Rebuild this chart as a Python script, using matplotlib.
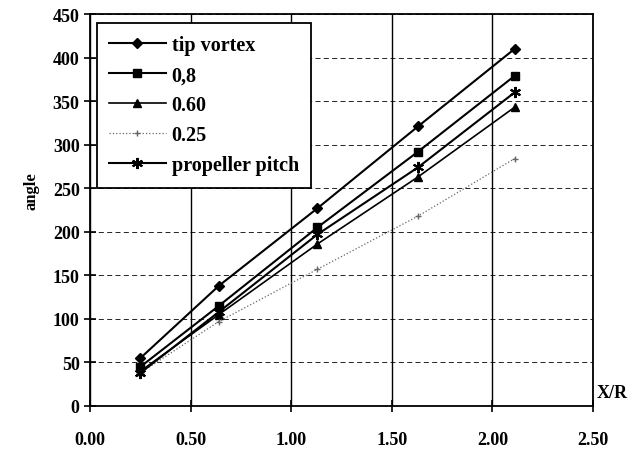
import numpy as np
import matplotlib.pyplot as plt

plt.rcParams['font.family'] = 'Liberation Serif'

# X/R stations
x = [0.25, 0.64, 1.13, 1.63, 2.11]

tip_vortex = [55, 138, 227, 321, 410]
r_08 = [45, 115, 205, 292, 379]
r_060 = [40, 105, 186, 263, 343]
r_025 = [38, 97, 157, 218, 284]
prop_pitch = [38, 108, 197, 274, 360]

fig = plt.figure(figsize=(6.39, 4.52), dpi=100)
ax = fig.add_axes([0.141, 0.0996, 0.787, 0.867])

ax.plot(x, tip_vortex, color='black', lw=1.5, marker='D', ms=5, label='tip vortex')
ax.plot(x, r_08, color='black', lw=1.5, marker='s', ms=6, label='0,8')
ax.plot(x, r_060, color='black', lw=1.2, marker='^', ms=6, label='0.60')
ax.plot(x, r_025, color='#666666', lw=0.9, ls=':', marker='+', ms=5, label='0.25')
ax.plot(x, prop_pitch, color='black', lw=1.5, marker=(6, 2, 0), ms=8, mew=1.5,
        label='propeller pitch')

ax.set_xlim(0, 2.5)
ax.set_ylim(0, 450)
ax.set_xticks(np.arange(0, 2.51, 0.5))
ax.set_yticks(np.arange(0, 451, 50))
ax.set_xticklabels(['%.2f' % v for v in np.arange(0, 2.51, 0.5)])

# vertical solid, horizontal dashed grid
ax.xaxis.grid(True, color='black', lw=1.0)
ax.yaxis.grid(True, color='black', lw=0.6, ls=(0, (6, 4)))
ax.set_axisbelow(True)

for s in ax.spines.values():
    s.set_linewidth(1.3)

ax.tick_params(axis='both', direction='inout', length=8, width=1.2, labelsize=13)
ax.tick_params(axis='x', pad=14)
for lab in ax.get_xticklabels() + ax.get_yticklabels():
    lab.set_fontweight('bold')

ax.set_ylabel('angle', fontsize=12, fontweight='bold')
ax.yaxis.set_label_coords(-0.1, 0.55)
ax.text(1.008, 0.035, 'X/R', transform=ax.transAxes, fontsize=13,
        fontweight='bold', ha='left', va='center')

leg = ax.legend(loc='upper left', bbox_to_anchor=(0.014, 0.977), borderaxespad=0,
                frameon=True, fancybox=False, edgecolor='black', framealpha=1,
                prop={'weight': 'bold', 'size': 14.5}, handlelength=2.8,
                borderpad=0.6, labelspacing=0.5, handletextpad=0.3)
leg.get_frame().set_linewidth(1.3)

fig.savefig('out.png', dpi=100)
